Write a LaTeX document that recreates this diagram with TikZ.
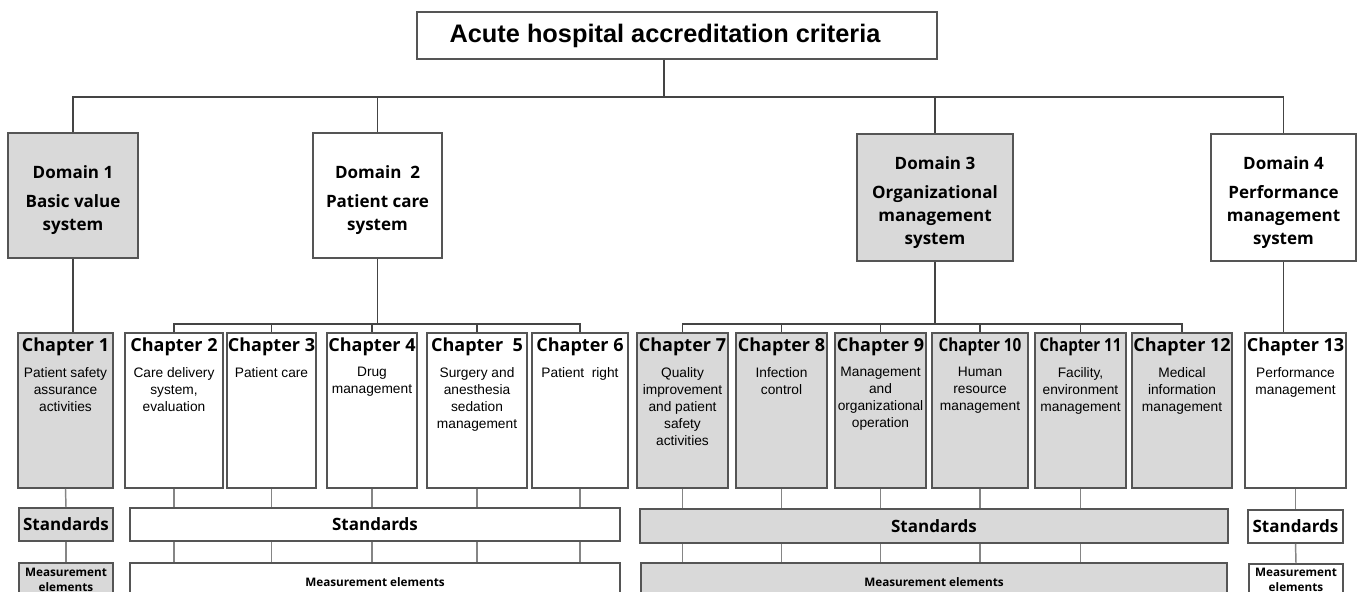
\documentclass[tikz,border=0pt]{standalone}
\usepackage{fontspec}
\setmainfont{Liberation Sans}
\newfontfamily\headfont{Open Sans}
\definecolor{boxfill}{HTML}{D9D9D9}
\definecolor{boxline}{HTML}{555555}
\definecolor{linkcol}{HTML}{444444}
\definecolor{subcol}{HTML}{858585}

\begin{document}
\begin{tikzpicture}[x=0.75pt, y=-0.75pt,
    wh/.style 2 args={minimum width=#1*0.75pt, minimum height=#2*0.75pt},
    box/.style={draw=boxline, line width=1.4pt, inner sep=0pt},
    greybox/.style={box, fill=boxfill},
    link/.style={draw=linkcol, line width=1.1pt},
    sublink/.style={draw=subcol, line width=1.1pt},
    crittext/.style={font=\bfseries\fontsize{19}{22}\selectfont},
    domtext/.style={align=center, font=\headfont\bfseries\fontsize{12.75}{17.25}\selectfont},
    chaptitle/.style={inner sep=0pt, font=\headfont\bfseries\fontsize{13.5}{15}\selectfont},
    chapdesc/.style={align=center, anchor=north, inner sep=0pt, font=\fontsize{10.3}{12.75}\selectfont},
    stdtext/.style={font=\headfont\bfseries\fontsize{12.75}{15}\selectfont},
    metext/.style={align=center, inner sep=0pt, font=\headfont\bfseries\fontsize{8.8}{11.25}\selectfont}]
    \useasboundingbox (0,0) rectangle (1363,592);
    \clip (0,0) rectangle (1363,592); % boxes of the last row run off the page

    % Criteria box
    \node[box, wh={520}{47}] (crit) at (677,35.5) {};
    \node[crittext] (crittxt) at (665,36) {Acute hospital accreditation criteria};

    % Domains
    \node[greybox, wh={130}{125}] (dom1) at (73,195.5) {};
    \node[box, wh={129}{125}] (dom2) at (377.5,195.5) {};
    \node[greybox, wh={156}{127}] (dom3) at (935,197.5) {};
    \node[box, wh={145}{127}] (dom4) at (1283.5,197.5) {};
    \node[domtext] (dom1txt) at (73,200) {Domain 1\\[5pt]Basic value\\system};
    \node[domtext] (dom2txt) at (377.5,200) {Domain\ \ 2\\[5pt]Patient care\\system};
    \node[domtext] (dom3txt) at (935,202.5) {Domain 3\\[5pt]Organizational\\management\\system};
    \node[domtext] (dom4txt) at (1283.5,202.5) {Domain 4\\[5pt]Performance\\management\\system};

    % Chapters
    \node[greybox, wh={95}{155}] (ch1) at (65.5,410.5) {};
    \node[box, wh={98}{155}] (ch2) at (174,410.5) {};
    \node[box, wh={89}{155}] (ch3) at (271.5,410.5) {};
    \node[box, wh={90}{155}] (ch4) at (372,410.5) {};
    \node[box, wh={100}{155}] (ch5) at (477,410.5) {};
    \node[box, wh={96}{155}] (ch6) at (580,410.5) {};
    \node[greybox, wh={91}{155}] (ch7) at (682.5,410.5) {};
    \node[greybox, wh={91}{155}] (ch8) at (781.5,410.5) {};
    \node[greybox, wh={91}{155}] (ch9) at (880.5,410.5) {};
    \node[greybox, wh={96}{155}] (ch10) at (980,410.5) {};
    \node[greybox, wh={91}{155}] (ch11) at (1080.5,410.5) {};
    \node[greybox, wh={100}{155}] (ch12) at (1182,410.5) {};
    \node[box, wh={101}{155}] (ch13) at (1295.5,410.5) {};

    \node[chaptitle] (t1) at (65.5,347) {Chapter 1};
    \node[chaptitle] (t2) at (174,347) {Chapter 2};
    \node[chaptitle] (t3) at (271.5,347) {Chapter 3};
    \node[chaptitle] (t4) at (372,347) {Chapter 4};
    \node[chaptitle] (t5) at (477,347) {Chapter\ \ 5};
    \node[chaptitle] (t6) at (580,347) {Chapter 6};
    \node[chaptitle] (t7) at (682.5,347) {Chapter 7};
    \node[chaptitle] (t8) at (781.5,347) {Chapter 8};
    \node[chaptitle] (t9) at (880.5,347) {Chapter 9};
    \node[chaptitle] (t10) at (980,347) {\scalebox{0.85}[1]{Chapter 10}};
    \node[chaptitle] (t11) at (1080.5,347) {\scalebox{0.84}[1]{Chapter 11}};
    \node[chaptitle] (t12) at (1182,347) {Chapter 12};
    \node[chaptitle] (t13) at (1295.5,347) {Chapter 13};

    \node[chapdesc] (d1) at (65.5,367) {Patient safety\\assurance\\activities};
    \node[chapdesc] (d2) at (174,367) {Care delivery\\system,\\evaluation};
    \node[chapdesc] (d3) at (271.5,367) {Patient care};
    \node[chapdesc] (d4) at (372,367) {Drug\\management};
    \node[chapdesc] (d5) at (477,367) {Surgery and\\anesthesia\\sedation\\management};
    \node[chapdesc] (d6) at (580,367) {Patient\ \ right};
    \node[chapdesc] (d7) at (682.5,367) {Quality\\improvement\\and patient\\safety\\activities};
    \node[chapdesc] (d8) at (781.5,367) {Infection\\control};
    \node[chapdesc] (d9) at (880.5,367) {Management\\and\\organizational\\operation};
    \node[chapdesc] (d10) at (980,367) {Human\\resource\\management};
    \node[chapdesc] (d11) at (1080.5,367) {Facility,\\environment\\management};
    \node[chapdesc] (d12) at (1182,367) {Medical\\information\\management};
    \node[chapdesc] (d13) at (1295.5,367) {Performance\\management};

    % Standards
    \node[greybox, stdtext, wh={94}{33}] (std1) at (66,524.5) {Standards};
    \node[box, stdtext, wh={490}{33}] (std2) at (375,524.5) {Standards};
    \node[greybox, stdtext, wh={588}{34}] (std3) at (934,526) {Standards};
    \node[box, stdtext, wh={95}{33}] (std4) at (1295.5,526.5) {Standards};

    % Measurement elements
    \node[greybox, wh={94}{60}] (me1) at (66,593) {};
    \node[box, wh={490}{60}] (me2) at (375,593) {};
    \node[greybox, wh={586}{60}] (me3) at (934,593) {};
    \node[box, wh={94}{60}] (me4) at (1296,594) {};
    \node[metext] (me1txt) at (66,580) {Measurement\\elements};
    \node[metext] (me2txt) at (375,582) {Measurement elements};
    \node[metext] (me3txt) at (934,582) {Measurement elements};
    \node[metext] (me4txt) at (1296,580) {Measurement\\elements};

    % Criteria to domains
    \coordinate (tbar) at (664,97);
    \draw[link] (crit.south -| tbar) -- (tbar);
    \draw[link] (dom1.north) |- (tbar) -| (dom4.north);
    \draw[link] (dom2.north) -- (dom2.north |- tbar);
    \draw[link] (dom3.north) -- (dom3.north |- tbar);

    % Domains to chapters
    \draw[link] (dom1.south) -- (dom1.south |- ch1.north);
    \coordinate (bar2) at (377.5,324);
    \draw[link] (dom2.south) -- (bar2);
    \draw[link] (ch2.north) |- (bar2) -| (ch6.north);
    \foreach \c in {3,4,5}
        \draw[link] (ch\c.north) -- (ch\c.north |- bar2);
    \coordinate (bar3) at (935,324);
    \draw[link] (dom3.south) -- (bar3);
    \draw[link] (ch7.north) |- (bar3) -| (ch12.north);
    \foreach \c in {8,...,11}
        \draw[link] (ch\c.north) -- (ch\c.north |- bar3);
    \draw[link] (dom4.south) -- (dom4.south |- ch13.north);

    % Chapters to standards to measurement elements
    \draw[sublink] (ch1.south) -- (std1.north);
    \draw[sublink] (std1.south) -- (me1.north);
    \foreach \c in {2,...,6} {
        \draw[sublink] (ch\c.south) -- (ch\c.south |- std2.north);
        \draw[sublink] (ch\c.south |- std2.south) -- (ch\c.south |- me2.north);
    }
    \foreach \c in {7,...,11} {
        \draw[sublink] (ch\c.south) -- (ch\c.south |- std3.north);
        \draw[sublink] (ch\c.south |- std3.south) -- (ch\c.south |- me3.north);
    }
    \draw[sublink] (ch13.south) -- (std4.north);
    \draw[sublink] (std4.south) -- (me4.north);
\end{tikzpicture}
\end{document}
